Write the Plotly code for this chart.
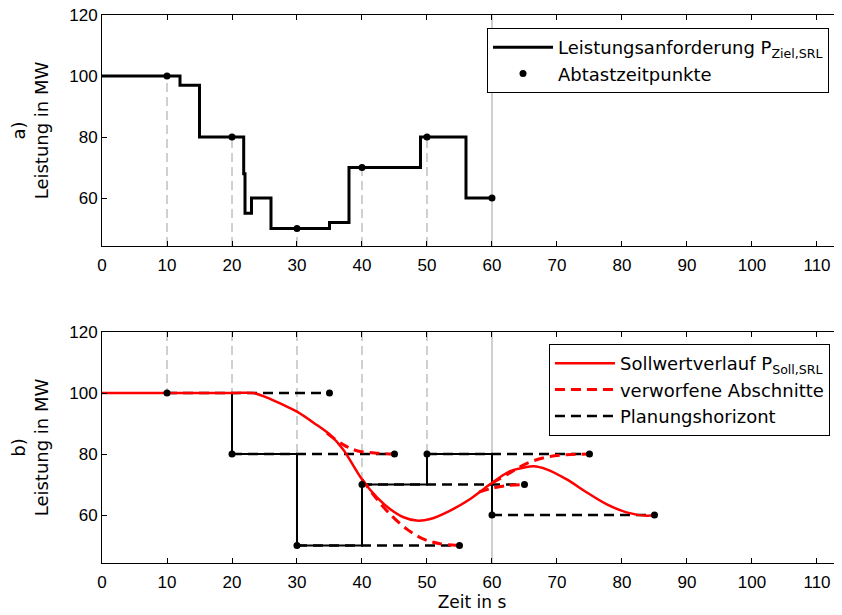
import plotly.graph_objects as go

# ---------------- data ----------------
# a) requested power (step function)
req_t = [0, 12, 12, 15, 15, 21.8, 21.8, 22, 22, 23, 23, 26, 26, 35, 35, 38, 38, 49, 49, 56, 56, 60]
req_p = [100, 100, 97, 97, 80, 80, 68, 68, 55, 55, 60, 60, 50, 50, 52, 52, 70, 70, 80, 80, 60, 60]

# sampling instants
samp_t = [10, 20, 30, 40, 50, 60]
samp_p = [100, 80, 50, 70, 80, 60]

# b) planning horizon ends
horizon_end_t = [35, 45, 55, 65, 75, 85]

# b) setpoint trajectory (read off the picture)
soll_t = [0, 10, 20, 23.3, 25.3, 27.9, 30.0, 33.0, 35.1, 37.1, 40.0, 42.3, 44.3, 46.4, 48.4,
          50.5, 53.5, 56.6, 59.7, 62.8, 64.8, 66.4, 68.4, 71.5, 74.6, 77.6, 80.7, 83.8, 85]
soll_p = [100, 100, 100, 100, 98.6, 96.1, 93.9, 89.6, 86.3, 81.5, 71.7, 65.8, 62.0, 59.3, 58.2,
          58.7, 61.4, 65.2, 70.1, 74.4, 75.5, 76.0, 75.0, 71.7, 67.4, 63.6, 60.9, 59.8, 60]

# b) discarded sections
disc1_t = [34.6, 37.1, 39.2, 42.3, 45]
disc1_p = [86.9, 83.1, 81.1, 80.3, 80]
disc2_t = [40, 42, 44, 46.9, 49.4, 52, 55]
disc2_p = [71.7, 66, 61, 55.4, 52.2, 50.6, 50]
disc3_t = [58, 60, 62, 65]
disc3_p = [67.5, 68.8, 69.6, 70]
disc4_t = [60, 62.5, 65.3, 68.4, 71.5, 75]
disc4_p = [70.5, 73.5, 76.9, 79.0, 79.8, 80]

x_ticks = [0, 10, 20, 30, 40, 50, 60, 70, 80, 90, 100, 110]
y_ticks = [60, 80, 100, 120]
X_RANGE = [0, 113.85]
Y_RANGE = [44.3, 120]

GRAY = "#a0a0a0"
RED = "#ff0000"
TXT = "DejaVu Sans"

fig = go.Figure()

# ---------- top subplot ----------
for t, p in zip(samp_t[:-1], samp_p[:-1]):
    fig.add_trace(go.Scatter(x=[t, t], y=[Y_RANGE[0], p], mode="lines",
                             line=dict(color=GRAY, width=1, dash="9px,5px"),
                             showlegend=False, hoverinfo="skip", xaxis="x", yaxis="y"))
fig.add_trace(go.Scatter(x=[samp_t[-1], samp_t[-1]], y=Y_RANGE, mode="lines",
                         line=dict(color=GRAY, width=1), showlegend=False,
                         hoverinfo="skip", xaxis="x", yaxis="y"))
fig.add_trace(go.Scatter(x=req_t, y=req_p, mode="lines", line=dict(color="black", width=3),
                         name="Leistungsanforderung P<sub>Ziel,SRL</sub>",
                         legend="legend", legendrank=1, xaxis="x", yaxis="y"))
fig.add_trace(go.Scatter(x=samp_t, y=samp_p, mode="markers",
                         marker=dict(color="black", size=7),
                         name="Abtastzeitpunkte", legend="legend", legendrank=2,
                         xaxis="x", yaxis="y"))

# ---------- bottom subplot ----------
for t, p in zip(samp_t[:-1], samp_p[:-1]):
    fig.add_trace(go.Scatter(x=[t, t], y=[Y_RANGE[1], p], mode="lines",
                             line=dict(color=GRAY, width=1, dash="9px,5px"),
                             showlegend=False, hoverinfo="skip", xaxis="x2", yaxis="y2"))
fig.add_trace(go.Scatter(x=[samp_t[-1], samp_t[-1]], y=Y_RANGE, mode="lines",
                         line=dict(color=GRAY, width=1), showlegend=False,
                         hoverinfo="skip", xaxis="x2", yaxis="y2"))

# sampled step (zero-order hold of sample values)
step_t = [0]
step_p = [100]
for i, (t, p) in enumerate(zip(samp_t, samp_p)):
    prev = samp_p[i - 1] if i > 0 else p
    step_t += [t, t]
    step_p += [prev, p]
fig.add_trace(go.Scatter(x=step_t, y=step_p, mode="lines", line=dict(color="black", width=2),
                         showlegend=False, hoverinfo="skip", xaxis="x2", yaxis="y2"))

# planning horizons
for i, (t, p, te) in enumerate(zip(samp_t, samp_p, horizon_end_t)):
    fig.add_trace(go.Scatter(x=[t, te], y=[p, p], mode="lines",
                             line=dict(color="black", width=2.5, dash="10px,6px"),
                             name="Planungshorizont", legend="legend2", legendrank=3,
                             showlegend=(i == 0), xaxis="x2", yaxis="y2"))

# discarded sections
for i, (dt, dp) in enumerate([(disc1_t, disc1_p), (disc2_t, disc2_p),
                              (disc3_t, disc3_p), (disc4_t, disc4_p)]):
    fig.add_trace(go.Scatter(x=dt, y=dp, mode="lines", line_shape="spline",
                             line=dict(color=RED, width=3, dash="10px,6px"),
                             name="verworfene Abschnitte", legend="legend2", legendrank=2,
                             showlegend=(i == 0), xaxis="x2", yaxis="y2"))

# setpoint trajectory
fig.add_trace(go.Scatter(x=soll_t, y=soll_p, mode="lines", line_shape="spline",
                         line=dict(color=RED, width=2.5),
                         name="Sollwertverlauf P<sub>Soll,SRL</sub>",
                         legend="legend2", legendrank=1, xaxis="x2", yaxis="y2"))

# sample dots and horizon end dots
fig.add_trace(go.Scatter(x=samp_t + horizon_end_t, y=samp_p + samp_p, mode="markers",
                         marker=dict(color="black", size=7), showlegend=False,
                         hoverinfo="skip", xaxis="x2", yaxis="y2"))

axis_common = dict(showline=True, linecolor="black", linewidth=1, ticks="inside",
                   ticklen=5, tickcolor="black", showgrid=False, zeroline=False,
                   tickfont=dict(family="Liberation Sans", size=17, color="black"),
                   ticklabeloverflow="allow", automargin=False)

# the page body adds an 8 px offset, so the figure is 8 px smaller than the window
fig.update_layout(
    width=834, height=607,
    margin=dict(l=94, r=0, t=0, b=0),
    paper_bgcolor="white", plot_bgcolor="white",
    xaxis=dict(domain=[0, 1], anchor="y", range=X_RANGE, tickvals=x_ticks,
               mirror="ticks", ticklabelstandoff=4, **axis_common),
    yaxis=dict(domain=[0.6079, 0.98847], anchor="x", range=Y_RANGE, tickvals=y_ticks,
               title=dict(text="a)<br>Leistung in MW", font=dict(family=TXT, size=18, color="black"),
                          standoff=16),
               **axis_common),
    xaxis2=dict(domain=[0, 1], anchor="y2", range=X_RANGE, tickvals=x_ticks,
                mirror="ticks", ticklabelstandoff=4,
                title=dict(text="Zeit in s", font=dict(family=TXT, size=17, color="black"),
                           standoff=4),
                **axis_common),
    yaxis2=dict(domain=[0.08567, 0.46623], anchor="x2", range=Y_RANGE, tickvals=y_ticks,
                title=dict(text="b)<br>Leistung in MW", font=dict(family=TXT, size=18, color="black"),
                           standoff=16),
                **axis_common),
    legend=dict(x=0.5203, y=0.96705, xanchor="left", yanchor="top",
                bgcolor="white", bordercolor="black", borderwidth=1,
                font=dict(family=TXT, size=18, color="black"), itemwidth=60,
                traceorder="normal"),
    legend2=dict(x=0.604, y=0.44646, xanchor="left", yanchor="top",
                 bgcolor="white", bordercolor="black", borderwidth=1,
                 font=dict(family=TXT, size=18, color="black"), itemwidth=60,
                 traceorder="normal"),
)

fig.write_html("out.html")
